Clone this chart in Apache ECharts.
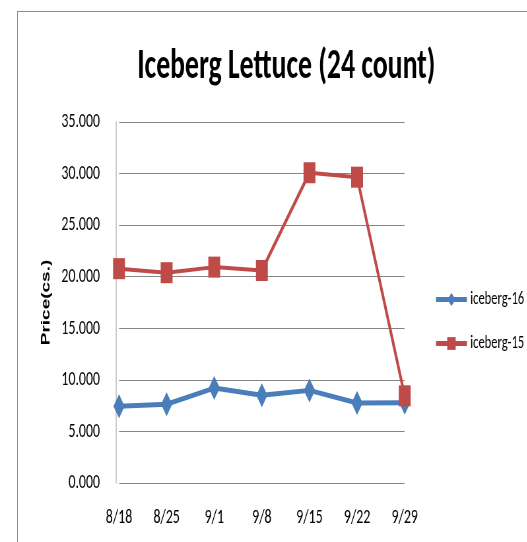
<!DOCTYPE html>
<html><head><meta charset="utf-8">
<script src="https://cdn.jsdelivr.net/npm/echarts@6/dist/echarts.min.js"></script>
<style>
html,body{margin:0;padding:0;background:#fff;overflow:hidden;}
#frame{position:absolute;left:17px;top:11px;width:600px;height:600px;border:1px solid #8c8c8c;box-sizing:border-box;}
#chart{position:absolute;left:0;top:0;height:542px;transform-origin:0 0;}
</style></head>
<body>
<div id="frame"></div>
<div id="chart"></div>
<script>
const categories = ['8/18','8/25','9/1','9/8','9/15','9/22','9/29'];
const iceberg16 = [7.43, 7.63, 9.2, 8.5, 8.98, 7.75, 7.78];
const iceberg15 = [20.78, 20.39, 20.93, 20.6, 30.08, 29.65, 8.45];
const seriesNames = ['iceberg-16','iceberg-15'];
const titleText = 'Iceberg Lettuce (24 count)';
const yName = 'Price(cs.)';

// The reference picture is horizontally squeezed; draw wider then squeeze.
const S = 0.66;
const W = Math.round(527 / S);
const el = document.getElementById('chart');
el.style.width = W + 'px';
el.style.transform = 'scaleX(' + S + ')';
const X = v => v / S;

const FONT = 'Carlito, "Open Sans", sans-serif';
const chart = echarts.init(el, null, {renderer:'canvas'});
chart.setOption({
  backgroundColor: 'transparent',
  animation: false,
  title: {
    text: titleText, left: X(283), top: 41, textAlign: 'center',
    textStyle: {fontFamily: FONT, fontWeight: 'bold', fontSize: 42, color: '#000'}
  },
  legend: {
    orient: 'vertical', left: X(431), top: 285, itemGap: 25,
    itemWidth: X(31), itemHeight: 16,
    textStyle: {fontFamily: FONT, fontSize: 19, color: '#000'},
    data: [
      {name: seriesNames[0], lineStyle: {width: 5, color: '#4a7ebb'}},
      {name: seriesNames[1], lineStyle: {width: 5, color: '#be4b48'}}
    ]
  },
  grid: {left: X(119), right: X(122), top: 122, bottom: 59, containLabel: false},
  xAxis: {
    type: 'category', data: categories, boundaryGap: false,
    axisLine: {show: false}, axisTick: {show: false},
    axisLabel: {fontFamily: FONT, fontSize: 21, color: '#000', margin: 24}
  },
  yAxis: {
    type: 'value', min: 0, max: 35, interval: 5, offset: X(3),
    name: yName, nameLocation: 'middle', nameGap: X(64), nameRotate: 90,
    nameTextStyle: {fontFamily: '"Liberation Sans", sans-serif', fontWeight: 'bold', fontSize: 19, color: '#000'},
    axisLine: {show: true, lineStyle: {color: '#bbbbbb', width: 1.5}},
    axisTick: {show: false},
    axisLabel: {fontFamily: FONT, fontSize: 21, color: '#000', margin: X(16),
      formatter: v => v.toFixed(3)},
    splitLine: {show: true, lineStyle: {color: '#868686', width: 1}}
  },
  series: [
    {name: seriesNames[0], type: 'line', data: iceberg16, symbol: 'diamond', symbolSize: [17, 24],
     lineStyle: {color: '#4a7ebb', width: 5}, itemStyle: {color: '#4a7ebb'}, z: 2},
    {name: seriesNames[1], type: 'line', data: iceberg15, symbol: 'rect', symbolSize: [18, 21],
     lineStyle: {color: '#be4b48', width: 4}, itemStyle: {color: '#be4b48'}, z: 3}
  ]
});
</script>
</body></html>
